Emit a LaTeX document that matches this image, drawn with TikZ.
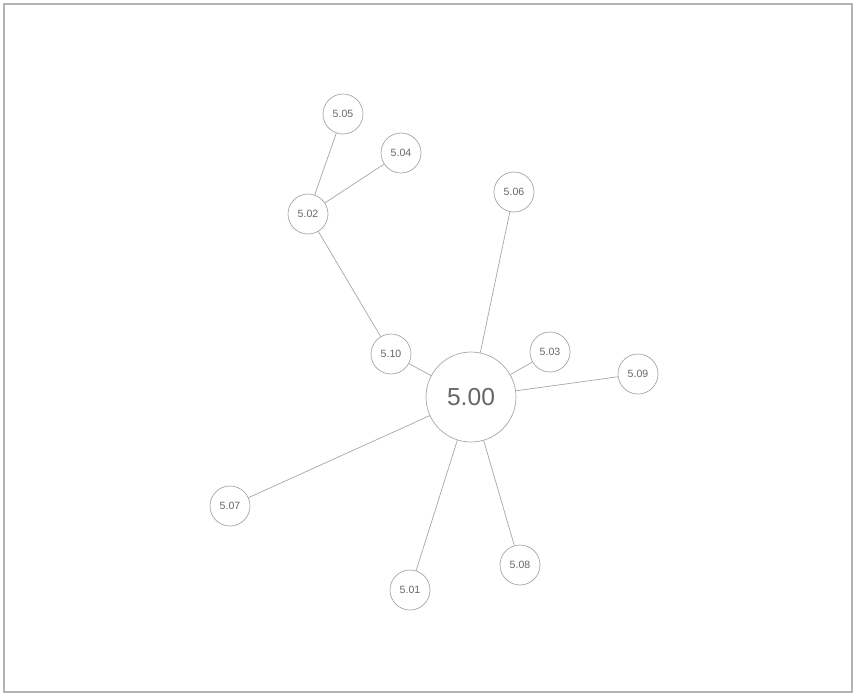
\documentclass[tikz,border=0pt]{standalone}
\usepackage{fontspec}
\setmainfont{Liberation Sans}
\begin{document}
\begin{tikzpicture}[x=0.02cm,y=-0.02cm,line width=0.4pt,
  leaf/.style={draw=gray!70,circle,minimum size=0.8cm,inner sep=0pt,font=\fontsize{6}{7}\selectfont,text=gray!80!black},
  hub/.style={draw=gray!70,circle,minimum size=1.8cm,inner sep=0pt,font=\fontsize{14}{16}\selectfont,text=gray!80!black},
  link/.style={draw=gray!70}]
  \useasboundingbox (0,0) rectangle (856,697);
  \draw[gray!60,line width=0.8pt] (4,4) rectangle (852,692);

  % 中心结点
  \node[hub] (n500) at (471,397) {5.00};

  % 周围结点
  \node[leaf] (n510) at (391,354) {5.10};
  \node[leaf] (n502) at (308,214) {5.02};
  \node[leaf] (n505) at (343,114) {5.05};
  \node[leaf] (n504) at (401,153) {5.04};
  \node[leaf] (n506) at (514,192) {5.06};
  \node[leaf] (n503) at (550,352) {5.03};
  \node[leaf] (n509) at (638,374) {5.09};
  \node[leaf] (n507) at (230,506) {5.07};
  \node[leaf] (n501) at (410,590) {5.01};
  \node[leaf] (n508) at (520,565) {5.08};

  % 连线
  \foreach \n in {n510,n506,n503,n509,n507,n501,n508}
    \draw[link] (n500) -- (\n);
  \draw[link] (n510) -- (n502);
  \draw[link] (n502) -- (n505);
  \draw[link] (n502) -- (n504);
\end{tikzpicture}
\end{document}
